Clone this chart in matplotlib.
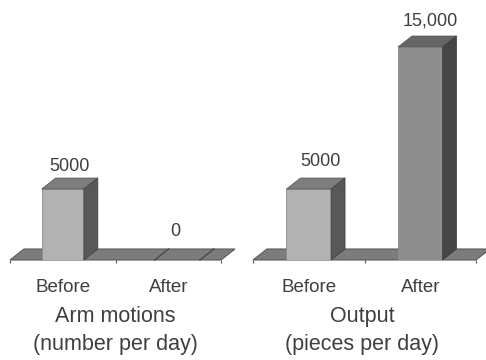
import matplotlib
matplotlib.use('Agg')
import matplotlib.pyplot as plt

plt.rcParams['font.family'] = ['Liberation Sans', 'DejaVu Sans']

categories = ["Before", "After"]
arm_motions = [5000, 0]
output = [5000, 15000]
arm_labels = ["5000", "0"]
output_labels = ["5000", "15,000"]

W, H = 486, 360
BASE_Y = 260           # pixel row of the floor front edge
PX_PER_UNIT = 71 / 5000
DEPTH_X, DEPTH_Y = 14, 11   # 3d offset, pixels
TEXT = "#3f3f3f"

fig = plt.figure(figsize=(W / 100, H / 100), dpi=100)
fig.patch.set_facecolor("white")


def panel(x0, x1, values, labels, label_pads, dividers, title, title_x):
    ax = fig.add_axes([x0 / W, (H - BASE_Y) / H, (x1 - x0) / W, BASE_Y / H])
    ax.set_xlim(0, 2)
    ax.set_ylim(0, BASE_Y / PX_PER_UNIT)
    ax.patch.set_alpha(0)
    for s in ax.spines.values():
        s.set_visible(False)
    ax.get_yaxis().set_visible(False)

    dx = DEPTH_X * 2 / (x1 - x0)
    dy = DEPTH_Y / PX_PER_UNIT

    # floor
    ax.fill([0, 2, 2 + dx, dx], [0, 0, dy, dy], color="#7c7c7c", ec="#5a5a5a",
            lw=0.8, clip_on=False, zorder=1)
    for d in dividers:
        ax.plot([d, d + dx], [0, dy], color="#4a4a4a", lw=1, clip_on=False, zorder=2)

    fronts = ["#b2b2b2", "#8e8e8e"]
    tops = ["#7d7d7d", "#666666"]
    sides = ["#585858", "#454545"]
    w = 0.4
    for i, v in enumerate(values):
        c = i + 0.5
        if v > 0:
            l, r = c - w / 2, c + w / 2
            ax.bar(c, v, w, color=fronts[i], ec="#8a8a8a", lw=0.6, zorder=3)
            ax.fill([l, r, r + dx, l + dx], [v, v, v + dy, v + dy], color=tops[i],
                    ec="#555555", lw=0.5, clip_on=False, zorder=3)
            ax.fill([r, r + dx, r + dx, r], [0, dy, v + dy, v], color=sides[i],
                    ec="#3c3c3c", lw=0.5, clip_on=False, zorder=3)
            top = v + dy
        else:
            top = dy
        ax.annotate(labels[i], (c + dx / 2, top), xytext=label_pads[i],
                    textcoords="offset pixels", ha="center", va="bottom",
                    fontsize=13, color=TEXT, annotation_clip=False)

    ax.set_xticks([0, 1, 2])
    ax.set_xticklabels([])
    ax.tick_params(axis="x", length=2, width=0.8, color="#555555")
    ax.set_xticks([0.5, 1.5], minor=True)
    ax.set_xticklabels(categories, minor=True, fontsize=13.5, color=TEXT)
    ax.tick_params(axis="x", which="minor", length=0, pad=13.5)
    ax.set_xlabel(title, fontsize=15.5, color=TEXT, labelpad=7.5, linespacing=1.42,
                  x=title_x)


panel(10, 221, arm_motions, arm_labels, [(0, 3), (0, 9)], [1.37, 1.8],
      "Arm motions\n(number per day)", 0.5)
panel(253, 476, output, output_labels, [(5, 8), (3, 6)], [],
      "Output\n(pieces per day)", 0.49)

fig.savefig("out.png", dpi=100)
